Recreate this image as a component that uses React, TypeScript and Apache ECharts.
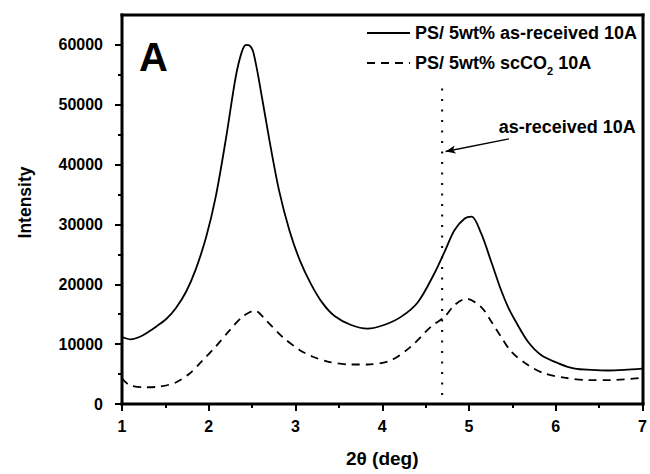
import React, { useEffect, useRef } from "react";
import * as echarts from "echarts";

const seriesNames = ["PS/ 5wt% as-received 10A", "PS/ 5wt% scCO2 10A"];

const asReceived: [number, number][] = [
  [1.0, 11200], [1.1, 10800], [1.2, 11200], [1.31, 12100], [1.4, 13000], [1.51, 14200],
  [1.62, 16000], [1.74, 18800], [1.85, 22500], [1.97, 27900], [2.08, 34600], [2.2, 44500],
  [2.31, 54600], [2.38, 58800], [2.43, 60000], [2.47, 59900], [2.51, 59000], [2.58, 54000],
  [2.7, 44000], [2.81, 35700], [2.93, 29000], [3.05, 24000], [3.18, 20000], [3.31, 16900],
  [3.45, 14700], [3.64, 13200], [3.83, 12600], [4.02, 13200], [4.22, 14600], [4.41, 17000],
  [4.6, 21800], [4.72, 25500], [4.83, 29000], [4.95, 31000], [5.03, 31300], [5.14, 28500],
  [5.26, 23600], [5.37, 19000], [5.45, 16200], [5.53, 14000], [5.68, 10400], [5.83, 8200],
  [6.03, 6800], [6.22, 5900], [6.41, 5700], [6.6, 5600], [6.79, 5700], [7.0, 5900],
];

const scCO2: [number, number][] = [
  [1.0, 4300], [1.08, 3200], [1.24, 2800], [1.43, 2900], [1.62, 3600], [1.78, 5100],
  [1.93, 7300], [2.08, 9600], [2.24, 12300], [2.39, 14600], [2.53, 15600], [2.66, 14000],
  [2.85, 11200], [3.05, 9000], [3.2, 7900], [3.37, 7100], [3.64, 6600], [3.83, 6600],
  [4.1, 7300], [4.33, 9600], [4.56, 12900], [4.72, 14600], [4.83, 16500], [4.97, 17600],
  [5.14, 16200], [5.26, 13700], [5.37, 11200], [5.49, 8700], [5.68, 6500], [5.87, 5100],
  [6.1, 4400], [6.37, 4000], [6.64, 4000], [7.0, 4400],
];

const refLine: [number, number][] = [[4.69, 1500], [4.69, 53500]];
const arrowFrom: [number, number] = [5.46, 44300];
const arrowTo: [number, number] = [4.73, 42200];
const annotation = { x: 5.342, y: 46330, text: "as-received 10A" };

const yMajorTicks = [0, 10000, 20000, 30000, 40000, 50000, 60000];
const yMinorTicks = [5000, 15000, 25000, 35000, 45000, 55000];

const FONT = "Liberation Sans, Arial, sans-serif";

const GRID = { left: 122, right: 7, top: 15, bottom: 70 };
const W = 650;
const H = 474;
const FRAME_W = 3;

export default function App() {
  const ref = useRef<HTMLDivElement>(null);
  useEffect(() => {
    if (!ref.current) return;
    const chart = echarts.init(ref.current, null, { renderer: "svg" });
    const axisLine = { show: false };
    const x0 = GRID.left;
    const y0 = GRID.top;
    const x1 = W - GRID.right;
    const y1 = H - GRID.bottom;
    const h = FRAME_W / 2;
    const bar = (x: number, y: number, width: number, height: number) => ({
      type: "rect",
      silent: true,
      z: 10,
      shape: { x, y, width, height },
      style: { fill: "#000" },
    });
    chart.setOption({
      animation: false,
      title: {
        text: "A",
        left: 139,
        top: 37,
        padding: 0,
        textStyle: { fontSize: 40, fontWeight: "bold", fontFamily: FONT, color: "#000" },
      },
      grid: GRID,
      graphic: [
        bar(x0 - h, y0 - h, x1 - x0 + FRAME_W, FRAME_W),
        bar(x0 - h, y1 - h, x1 - x0 + FRAME_W, FRAME_W),
        bar(x0 - h, y0 - h, FRAME_W, y1 - y0 + FRAME_W),
        bar(x1 - h, y0 - h, FRAME_W, y1 - y0 + FRAME_W),
      ],
      legend: {
        data: seriesNames,
        orient: "vertical",
        left: 361,
        top: 19,
        itemWidth: 43,
        itemHeight: 14,
        itemGap: 12,
        itemStyle: { opacity: 0 },
        formatter: (name: string) => name.replace("CO2", "CO{sub|2}"),
        textStyle: {
          fontSize: 18,
          fontWeight: "bold",
          fontFamily: FONT,
          color: "#000",
          rich: {
            sub: {
              fontSize: 11,
              fontWeight: "bold",
              fontFamily: FONT,
              color: "#000",
              verticalAlign: "bottom",
              lineHeight: 11,
              padding: [0, 0, -4, 0],
            },
          },
        },
      },
      xAxis: {
        type: "value",
        min: 1,
        max: 7,
        interval: 1,
        splitLine: { show: false },
        axisLine,
        axisTick: { show: true, length: 7, lineStyle: { width: 2, color: "#000" } },
        minorTick: { show: true, splitNumber: 2, length: 4, lineStyle: { width: 2, color: "#000" } },
        axisLabel: {
          fontSize: 16,
          fontWeight: "bold",
          fontFamily: FONT,
          color: "#000",
          margin: 14,
          formatter: (v: number) => String(v),
        },
        name: "2θ (deg)",
        nameLocation: "middle",
        nameGap: 45,
        nameTextStyle: { fontSize: 19, fontWeight: "bold", fontFamily: FONT, color: "#000" },
      },
      yAxis: [
        {
          type: "value",
          min: 0,
          max: 65000,
          interval: 10000,
          splitLine: { show: false },
          axisLine,
          axisTick: {
            show: true,
            length: 7,
            customValues: yMajorTicks,
            lineStyle: { width: 2, color: "#000" },
          },
          axisLabel: {
            fontSize: 16,
            fontWeight: "bold",
            fontFamily: FONT,
            color: "#000",
            margin: 19,
            customValues: yMajorTicks,
            formatter: (v: number) => String(v),
          },
          name: "Intensity",
          nameLocation: "middle",
          nameGap: 88,
          nameTextStyle: {
            fontSize: 17.5,
            fontWeight: "bold",
            fontFamily: FONT,
            color: "#000",
            padding: [0, 0, 0, 14],
          },
        },
        {
          type: "value",
          min: 0,
          max: 65000,
          position: "left",
          splitLine: { show: false },
          axisLine: { show: false },
          axisTick: {
            show: true,
            length: 4,
            customValues: yMinorTicks,
            lineStyle: { width: 2, color: "#000" },
          },
          axisLabel: { show: false },
        },
      ],
      series: [
        {
          name: seriesNames[0],
          type: "line",
          data: asReceived,
          showSymbol: false,
          symbol: "none",
          smooth: 0.3,
          lineStyle: { color: "#000", width: 1.8 },
          itemStyle: { color: "#000" },
        },
        {
          name: seriesNames[1],
          type: "line",
          data: scCO2,
          showSymbol: false,
          symbol: "none",
          smooth: 0.3,
          lineStyle: { color: "#000", width: 1.8, type: [8, 6] },
          itemStyle: { color: "#000" },
        },
        {
          name: "ref",
          type: "line",
          data: refLine,
          showSymbol: false,
          symbol: "none",
          silent: true,
          lineStyle: { color: "#000", width: 2, type: [2, 8.5] },
          markLine: {
            silent: true,
            animation: false,
            label: { show: false },
            lineStyle: { color: "#000", width: 1.5, type: "solid" },
            data: [
              [
                { coord: arrowFrom, symbol: "none" },
                { coord: arrowTo, symbol: "arrow", symbolSize: [6, 10] },
              ],
            ],
          },
          markPoint: {
            silent: true,
            symbol: "circle",
            symbolSize: 0,
            data: [{ coord: [annotation.x, annotation.y], value: annotation.text }],
            label: {
              show: true,
              position: "right",
              distance: 0,
              formatter: annotation.text,
              fontSize: 18,
              fontWeight: "bold",
              fontFamily: FONT,
              color: "#000",
            },
          },
        },
      ],
    });
    return () => chart.dispose();
  }, []);
  return (
    <div
      ref={ref}
      style={{ width: W, height: H, position: "absolute", left: 0, top: 0 }}
    />
  );
}
